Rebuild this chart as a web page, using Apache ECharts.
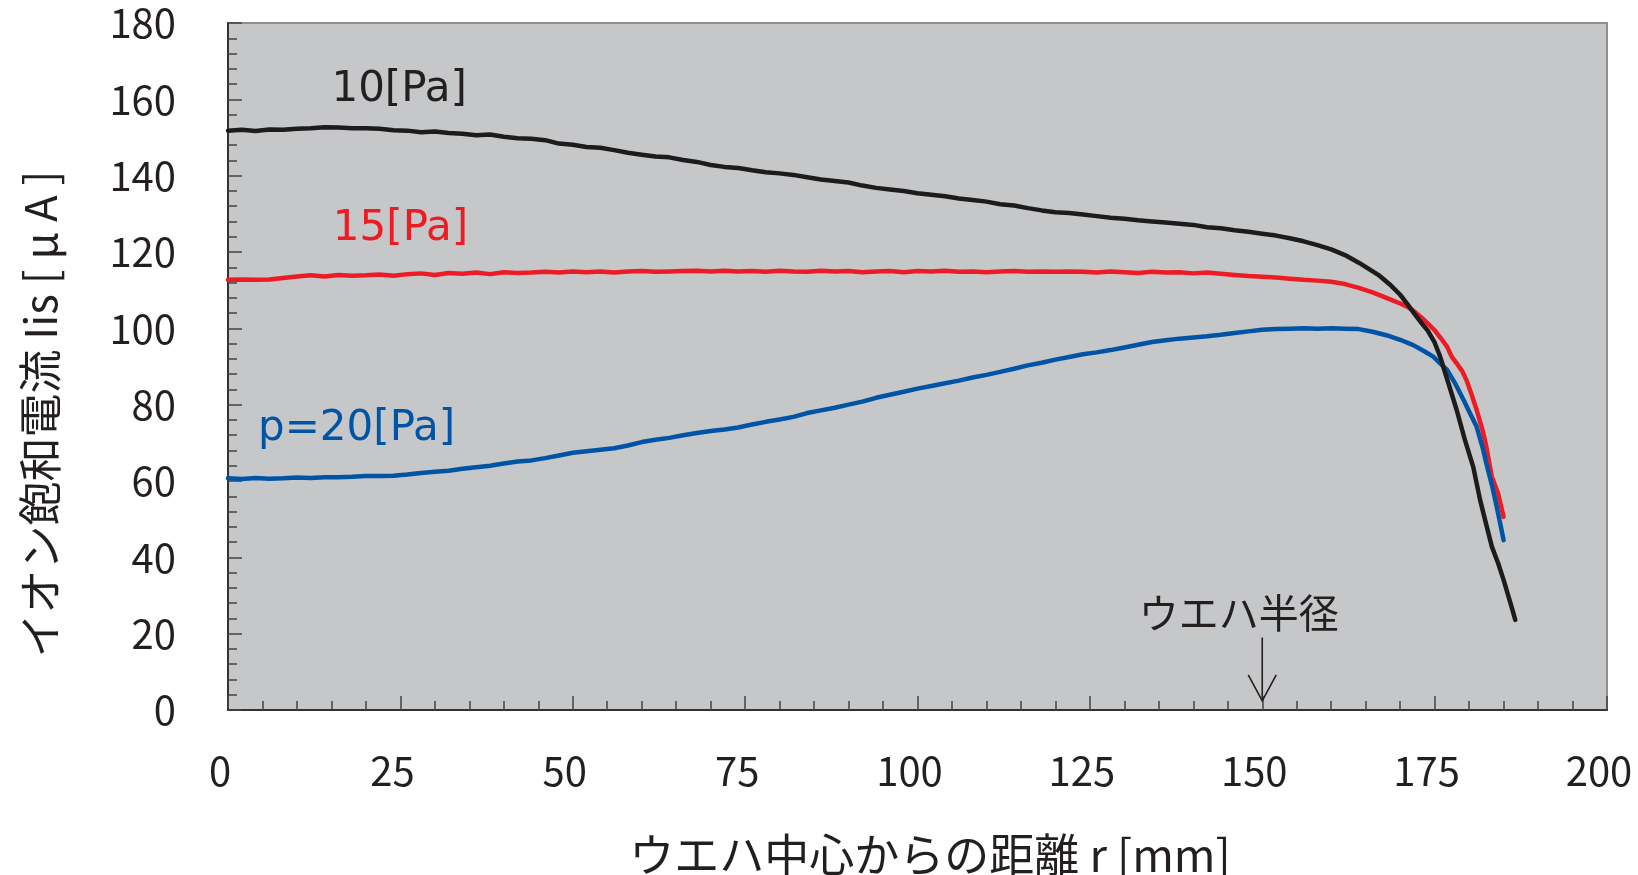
<!DOCTYPE html>
<html>
<head>
<meta charset="utf-8">
<title>イオン飽和電流分布</title>
<script src="https://cdn.jsdelivr.net/npm/echarts@6.0.0/dist/echarts.min.js"></script>
<style>
  html, body { margin: 0; padding: 0; background: #fff; }
  #chart { width: 1638px; height: 875px; }
</style>
</head>
<body>
<div id="chart"></div>
<script>
// x: ウエハ中心からの距離 r [mm], y: イオン飽和電流 [μA]
const r10 = [0, 2, 4, 6, 8, 10, 12, 14, 16, 18, 20, 22, 24, 26, 28, 30, 32, 34, 36, 38,
  40, 42, 44, 46, 48, 50, 52, 54, 56, 58, 60, 62, 64, 66, 68, 70, 72, 74, 76, 78,
  80, 82, 84, 86, 88, 90, 92, 94, 96, 98, 100, 102, 104, 106, 108, 110, 112, 114, 116, 118,
  120, 122, 124, 126, 128, 130, 132, 134, 136, 138, 140, 142, 144, 146, 148, 150, 152, 154, 156, 158,
  160, 162, 164, 165.5, 167, 168.5, 170, 171, 172, 173, 174, 175, 175.8, 176.5, 177, 178.2, 179.4, 180.6, 181.6, 182.5,
  183.3, 184.2, 185, 186, 186.7]
const i10 = [151.8, 152.0, 151.7, 152.1, 152.0, 152.3, 152.4, 152.7, 152.6, 152.4, 152.4, 152.3, 151.9, 151.8, 151.4, 151.6, 151.2, 151.0, 150.6, 150.8,
  150.2, 149.8, 149.7, 149.3, 148.4, 148.1, 147.5, 147.3, 146.7, 146.0, 145.5, 145.0, 144.8, 144.1, 143.6, 142.8, 142.3, 142.0, 141.4, 140.9,
  140.6, 140.2, 139.6, 139.0, 138.6, 138.2, 137.4, 136.8, 136.4, 136.0, 135.4, 135.0, 134.6, 134.0, 133.6, 133.2, 132.5, 132.2, 131.5, 130.9,
  130.4, 130.2, 129.8, 129.4, 129.0, 128.7, 128.3, 128.0, 127.7, 127.4, 127.1, 126.5, 126.2, 125.7, 125.3, 124.8, 124.3, 123.6, 122.8, 121.8,
  120.7, 119.2, 117.2, 115.5, 113.8, 111.5, 108.8, 106.5, 104.0, 101.6, 99.4, 96.3, 92.6, 88.5, 85.6, 78.6, 70.7, 63.7, 55.0, 48.5,
  42.8, 38.5, 34.1, 28.0, 23.6]

const r15 = [0, 2, 4, 6, 8, 10, 12, 14, 16, 18, 20, 22, 24, 26, 28, 30, 32, 34, 36, 38,
  40, 42, 44, 46, 48, 50, 52, 54, 56, 58, 60, 62, 64, 66, 68, 70, 72, 74, 76, 78,
  80, 82, 84, 86, 88, 90, 92, 94, 96, 98, 100, 102, 104, 106, 108, 110, 112, 114, 116, 118,
  120, 122, 124, 126, 128, 130, 132, 134, 136, 138, 140, 142, 144, 146, 148, 150, 152, 154, 156, 158,
  160, 162, 164, 166, 168, 170, 171, 172, 173, 174, 175, 176, 176.8, 177.5, 178.2, 179, 179.6, 180.3, 181.1, 182,
  182.5, 183.3, 184.2, 185]
const i15 = [112.7, 112.8, 112.7, 112.8, 113.2, 113.6, 113.9, 113.6, 114.0, 113.8, 113.9, 114.1, 113.8, 114.2, 114.4, 114.0, 114.5, 114.3, 114.6, 114.2,
  114.7, 114.5, 114.6, 114.8, 114.6, 114.9, 114.7, 114.9, 114.6, 114.9, 115.0, 114.8, 114.9, 115.0, 115.1, 114.9, 115.1, 114.9, 115.0, 114.8,
  115.1, 114.9, 114.8, 115.1, 114.9, 115.0, 114.7, 114.9, 115.0, 114.7, 115.0, 114.9, 115.1, 114.8, 114.9, 114.7, 114.9, 115.0, 114.8, 114.9,
  114.8, 114.9, 114.8, 114.6, 114.9, 114.7, 114.5, 114.8, 114.6, 114.7, 114.4, 114.6, 114.3, 114.0, 113.7, 113.5, 113.3, 113.0, 112.7, 112.5,
  112.2, 111.6, 110.6, 109.4, 108.0, 106.5, 105.7, 104.5, 103.0, 101.3, 99.5, 97.2, 95.2, 92.5, 90.8, 88.8, 86.5, 83.0, 78.6, 73.0,
  69.0, 61.1, 56.8, 50.6]

const r20 = [0, 2, 4, 6, 8, 10, 12, 14, 16, 18, 20, 22, 24, 26, 28, 30, 32, 34, 36, 38,
  40, 42, 44, 46, 48, 50, 52, 54, 56, 58, 60, 62, 64, 66, 68, 70, 72, 74, 76, 78,
  80, 82, 84, 86, 88, 90, 92, 94, 96, 98, 100, 102, 104, 106, 108, 110, 112, 114, 116, 118,
  120, 122, 124, 126, 128, 130, 132, 134, 136, 138, 140, 142, 144, 146, 148, 150, 152, 154, 156, 158,
  160, 162, 164, 166, 168, 170, 171.9, 173.5, 174.8, 176, 176.8, 178, 179.2, 180.2, 181.1, 182, 182.5, 183.3, 184, 184.5,
  185]
const i20 = [60.7, 60.5, 60.8, 60.6, 60.7, 60.9, 60.8, 61.0, 61.0, 61.1, 61.3, 61.3, 61.4, 61.7, 62.1, 62.4, 62.7, 63.2, 63.6, 64.0,
  64.6, 65.1, 65.4, 66.0, 66.7, 67.4, 67.8, 68.2, 68.6, 69.3, 70.2, 70.8, 71.3, 72.0, 72.6, 73.1, 73.5, 74.0, 74.8, 75.5,
  76.1, 76.8, 77.8, 78.5, 79.2, 80.0, 80.8, 81.8, 82.6, 83.4, 84.2, 84.9, 85.6, 86.3, 87.1, 87.8, 88.6, 89.4, 90.3, 91.0,
  91.8, 92.5, 93.2, 93.7, 94.3, 95.0, 95.7, 96.4, 96.9, 97.3, 97.6, 97.9, 98.3, 98.8, 99.2, 99.6, 99.8, 99.9, 100.0, 99.9,
  100.0, 99.9, 99.8, 99.1, 98.2, 97.0, 95.6, 94.0, 92.6, 90.5, 89.1, 85.5, 81.2, 77.5, 74.2, 68.5, 64.6, 59.0, 53.3, 49.0,
  44.5]

const xTicks = [0, 25, 50, 75, 100, 125, 150, 175, 200]
const yTicks = [0, 20, 40, 60, 80, 100, 120, 140, 160, 180]

const textColor = '#231f20'
const cjkFont = '"Noto Sans CJK JP", "Noto Sans", sans-serif'

const pair = (xs, ys) => xs.map((x, i) => [x, ys[i]])

const chart = echarts.init(document.getElementById('chart'))

const lineSeries = (name, xs, ys, color) => ({
  name,
  type: 'line',
  data: pair(xs, ys),
  showSymbol: false,
  symbol: 'none',
  smooth: false,
  animation: false,
  lineStyle: { color, width: 4.5, join: 'round', cap: 'round' }
})

const axisCommon = {
  axisLine: { show: true, onZero: false, lineStyle: { color: '#333', width: 2 } },
  axisTick: { show: true, inside: true, length: 14, lineStyle: { color: '#444', width: 1.5 } },
  minorTick: { show: true, splitNumber: 5, length: 9, lineStyle: { color: '#444', width: 1.5 } },
  splitLine: { show: false },
  minorSplitLine: { show: false }
}

chart.setOption({
  animation: false,
  grid: {
    left: 228,
    top: 23,
    right: 31,
    bottom: 165,
    show: true,
    backgroundColor: '#c6c7c9',
    borderColor: '#8e8e8e',
    borderWidth: 2
  },
  xAxis: {
    type: 'value',
    min: xTicks[0],
    max: xTicks[xTicks.length - 1],
    interval: xTicks[1] - xTicks[0],
    ...axisCommon,
    axisLabel: {
      margin: 41,
      color: textColor,
      fontSize: 40,
      fontFamily: cjkFont,
      padding: [0, 16, 0, 0]
    }
  },
  yAxis: {
    type: 'value',
    min: yTicks[0],
    max: yTicks[yTicks.length - 1],
    interval: yTicks[1] - yTicks[0],
    ...axisCommon,
    axisLabel: {
      margin: 52,
      color: textColor,
      fontSize: 40,
      fontFamily: cjkFont,
      padding: [8, 0, 0, 0]
    }
  },
  series: [
    lineSeries('15[Pa]', r15, i15, '#ed1c24'),
    lineSeries('20[Pa]', r20, i20, '#0054a6'),
    lineSeries('10[Pa]', r10, i10, '#1e1b1c')
  ]
})

// 注記（データ座標で置く）
const notes = [
  { text: '10[Pa]', at: [15.0, 162.3], color: '#231f20' },
  { text: '15[Pa]', at: [15.2, 125.9], color: '#ed1c24' },
  { text: 'p=20[Pa]', at: [4.35, 73.6], color: '#0054a6' }
]
const toPx = (p) => chart.convertToPixel({ gridIndex: 0 }, p)

const graphics = notes.map(n => {
  const [px, py] = toPx(n.at)
  return {
    type: 'text',
    x: px,
    y: py,
    z: 10,
    style: {
      text: n.text,
      fill: n.color,
      font: '42px "DejaVu Sans", sans-serif',
      align: 'left',
      verticalAlign: 'middle'
    }
  }
})

// ウエハ半径の矢印
const [wx, wTop] = toPx([150, 19.0])
const [, wTip] = toPx([150, 2.4])
const [tx, ty] = toPx([132.1, 25.5])
graphics.push(
  {
    type: 'text', x: tx, y: ty, z: 10,
    style: { text: 'ウエハ半径', fill: textColor, font: '40px ' + cjkFont, align: 'left', verticalAlign: 'middle' }
  },
  {
    type: 'line', z: 10,
    shape: { x1: wx, y1: wTop, x2: wx, y2: wTip },
    style: { stroke: textColor, lineWidth: 1.6 }
  },
  {
    type: 'polyline', z: 10,
    shape: { points: [[wx - 14, wTip - 26], [wx, wTip], [wx + 14, wTip - 26]] },
    style: { stroke: textColor, lineWidth: 1.6, fill: null }
  },
  {
    type: 'text', x: 930, y: 855, z: 10,
    style: { text: 'ウエハ中心からの距離 r [mm]', fill: textColor, font: '45px ' + cjkFont, align: 'center', verticalAlign: 'middle' }
  },
  {
    type: 'text', x: 40, y: 414, z: 10, rotation: Math.PI / 2,
    style: { text: 'イオン飽和電流 Iis [ μ A ]', fill: textColor, font: '44px ' + cjkFont, align: 'center', verticalAlign: 'middle' }
  }
)

chart.setOption({ graphic: graphics })
</script>
</body>
</html>
